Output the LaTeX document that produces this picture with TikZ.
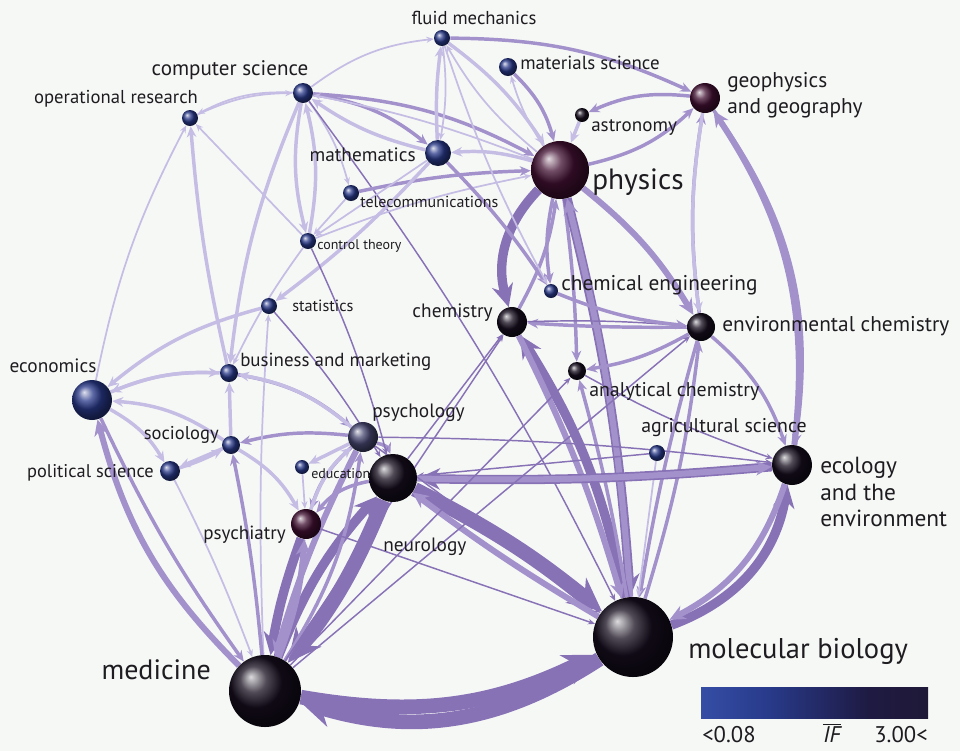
\documentclass[tikz,border=0pt]{standalone}
\usepackage{fontspec}
\setmainfont{PT Sans}
\usetikzlibrary{arrows.meta,positioning}
\definecolor{ink}{RGB}{30,28,32}
\definecolor{paper}{RGB}{246,248,246}
\definecolor{lavA}{RGB}{198,189,228}
\definecolor{lavB}{RGB}{163,145,204}
\definecolor{lavC}{RGB}{136,114,182}
\definecolor{ballblue}{RGB}{40,56,136}
\definecolor{balldark}{RGB}{22,14,30}
\definecolor{ballplum}{RGB}{66,16,50}
\definecolor{ballgrey}{RGB}{70,70,112}
\definecolor{barA}{RGB}{178,194,240}
\definecolor{barB}{RGB}{62,92,184}
\definecolor{barC}{RGB}{40,58,138}
\definecolor{barD}{RGB}{30,26,66}
\definecolor{barE}{RGB}{34,24,36}
\pgfdeclarehorizontalshading{ifbar}{100bp}{color(0bp)=(barA); color(14bp)=(barB); color(40bp)=(barC); color(62bp)=(barD); color(100bp)=(barE)}
\pgfdeclarelayer{paperlayer}
\pgfdeclarelayer{edges}
\pgfsetlayers{paperlayer,edges,main}

\begin{document}
\begin{tikzpicture}[x=0.75pt,y=0.75pt,
  ball/.style={circle, inner sep=0pt},
  bl/.style={ball, ball color=ballblue},
  dk/.style={ball, ball color=balldark},
  pl/.style={ball, ball color=ballplum},
  gy/.style={ball, ball color=ballgrey},
  lbl/.style={text=ink, inner sep=0pt, font=\fontsize{#1}{#1}\selectfont},
  tip/.style={-{Stealth[length=3pt 2, width=2pt 2]}},
  ea/.style={tip, draw=lavA, line width=1.3pt},
  eb/.style={tip, draw=lavC, line width=1.1pt},
  ec/.style={tip, draw=lavA, line width=2.6pt},
  ed/.style={tip, draw=lavB, line width=2.6pt},
  ee/.style={tip, draw=lavB, line width=4.5pt},
  ef/.style={tip, draw=lavC, line width=7pt},
  eg/.style={tip, draw=lavC, line width=11pt}]
\useasboundingbox (0,0) rectangle (960,-751);
\begin{pgfonlayer}{paperlayer}
\fill[paper] (0,0) rectangle (960,-751);
\end{pgfonlayer}

\node[bl, minimum size=12pt] (fluid) at (442,-38) {};
\node[bl, minimum size=13.5pt] (matsci) at (508,-67) {};
\node[bl, minimum size=15pt] (compsci) at (303,-93) {};
\node[bl, minimum size=12pt] (opres) at (190,-118) {};
\node[pl, minimum size=22.5pt] (geo) at (705,-98) {};
\node[dk, minimum size=10.5pt] (astro) at (582,-115) {};
\node[bl, minimum size=19.5pt] (math) at (438,-153) {};
\node[pl, minimum size=43.5pt] (phys) at (560,-170) {};
\node[bl, minimum size=12pt] (telecom) at (351,-193) {};
\node[bl, minimum size=12pt] (control) at (308,-241) {};
\node[bl, minimum size=12pt] (stats) at (269,-306) {};
\node[bl, minimum size=10.5pt] (chemeng) at (551,-291) {};
\node[dk, minimum size=22.5pt] (chem) at (512,-322) {};
\node[dk, minimum size=21pt] (envchem) at (701,-327) {};
\node[bl, minimum size=13.5pt] (business) at (229,-373) {};
\node[dk, minimum size=13.5pt] (analchem) at (577,-371) {};
\node[bl, minimum size=30pt] (econ) at (92,-400) {};
\node[gy, minimum size=22.5pt] (psychol) at (363,-437) {};
\node[bl, minimum size=13.5pt] (socio) at (231,-445) {};
\node[bl, minimum size=12pt] (agri) at (657,-453) {};
\node[bl, minimum size=15pt] (polsci) at (170,-471) {};
\node[bl, minimum size=10.5pt] (edu) at (302,-467) {};
\node[dk, minimum size=30pt] (eco) at (792,-465) {};
\node[dk, minimum size=36pt] (neuro) at (393,-478) {};
\node[pl, minimum size=22.5pt] (psychiat) at (306,-524) {};
\node[dk, minimum size=60pt] (molbio) at (633,-637) {};
\node[dk, minimum size=54pt] (med) at (265,-691) {};

\node[lbl=14] (fluidT) at (474,-18) {fluid mechanics};
\node[lbl=14.2, anchor=west] (matsciT) at (520,-63) {materials science};
\node[lbl=15.8] (compsciT) at (230,-70) {computer science};
\node[lbl=14] (opresT) at (116,-99) {operational research};
\node[text=ink, inner sep=0pt, anchor=west, align=left, font=\fontsize{16}{19.5}\selectfont] (geoT) at (727,-95) {geophysics\\and geography};
\node[lbl=14.3, anchor=west] (astroT) at (591,-128) {astronomy};
\node[lbl=14.5, anchor=east] (mathT) at (416,-155) {mathematics};
\node[lbl=22, anchor=west] (physT) at (592,-182) {physics};
\node[lbl=12, anchor=west] (telecomT) at (360,-202) {telecommunications};
\node[lbl=10.5, anchor=west] (controlT) at (317,-246) {control theory};
\node[lbl=12.2, anchor=west] (statsT) at (292,-306) {statistics};
\node[lbl=16, anchor=west] (chemengT) at (561,-285) {chemical engineering};
\node[lbl=14.5, anchor=east] (chemT) at (493,-313) {chemistry};
\node[lbl=16, anchor=west] (envchemT) at (722,-326) {environmental chemistry};
\node[lbl=14.2, anchor=west] (businessT) at (240,-362) {business and marketing};
\node[lbl=14.9, anchor=west] (analchemT) at (589,-391) {analytical chemistry};
\node[lbl=14.5] (econT) at (53,-366) {economics};
\node[lbl=14.5, anchor=west] (psycholT) at (372,-413) {psychology};
\node[lbl=13.9, anchor=east] (socioT) at (219,-435) {sociology};
\node[lbl=14.9, anchor=west] (agriT) at (641,-428) {agricultural science};
\node[lbl=13.8, anchor=east] (polsciT) at (154,-473) {political science};
\node[lbl=10.5, anchor=west] (eduT) at (311,-474) {education};
\node[text=ink, inner sep=0pt, anchor=west, align=left, font=\fontsize{17.5}{20}\selectfont] (ecoT) at (820,-492) {ecology\\and the\\environment};
\node[lbl=14.5, anchor=west] (neuroT) at (383,-547) {neurology};
\node[lbl=14.3, anchor=east] (psychiatT) at (286,-535) {psychiatry};
\node[lbl=21.4, anchor=west] (molbioT) at (688,-651) {molecular biology};
\node[lbl=21, anchor=east] (medT) at (211,-670) {medicine};

\shade[shading=ifbar] (701,-687) rectangle (928,-718);
\node[lbl=17, anchor=west] (loT) at (702,-735) {<0.08};
\node[lbl=17] (ifT) at (832,-733) {$\overline{\mbox{\itshape IF}}$};
\node[lbl=17, anchor=east] (hiT) at (928,-735) {3.00<};

\begin{pgfonlayer}{edges}
\draw[ea] (compsci) to[bend right=15] (opres);
\draw[ea] (opres) to[bend left=12] (compsci);
\draw[ea] (compsci) to[bend left=15] (fluid);
\draw[ea] (econ) to[bend left=8] (opres);
\draw[ec] (business) to[bend left=4] (opres);
\draw[ea] (control) to (opres);
\draw[ed] (compsci) to[bend left=15] (math);
\draw[ec] (math) to[bend left=10] (compsci);
\draw[ed] (compsci) to[bend left=12] (phys);
\draw[ea] (phys) to[bend right=5] (compsci);
\draw[ec] (compsci) to[bend right=12] (control);
\draw[ec] (control) to[bend right=12] (compsci);
\draw[ea] (compsci) to[bend left=10] (telecom);
\draw[ec] (compsci) to[bend right=8] (business);
\draw[ea] (control) to[bend right=5] (business);
\draw[eb] (compsci) to[bend left=5] (molbio);
\draw[ec] (phys) to[bend right=10] (math);
\draw[ed] (telecom) to[bend left=5] (phys);
\draw[ea] (control) to[bend left=5] (phys);
\draw[ea] (math) to (control);
\draw[ea] (telecom) to (control);
\draw[ec] (math) to[bend left=5] (fluid);
\draw[ea] (fluid) to[bend left=8] (math);
\draw[ec] (fluid) to[bend left=10] (phys);
\draw[ea] (phys) to[bend left=10] (fluid);
\draw[ed] (fluid) to[bend left=12] (geo);
\draw[ed] (matsci) to[bend left=15] (phys);
\draw[ea] (phys) to[bend left=8] (matsci);
\draw[ec] (astro) to (phys);
\draw[ed] (geo) to[bend right=15] (astro);
\draw[ed] (phys) to[bend right=15] (geo);
\draw[ed] (envchem) to[bend left=8] (geo);
\draw[ec] (geo) to[bend right=8] (envchem);
\draw[ee] (eco) to[bend right=20] (geo);
\draw[ed] (geo) to[bend left=22] (eco);
\draw[ef] (phys) to[bend right=30] (chem);
\draw[ed] (chem) to[bend right=10] (phys);
\draw[ed] (phys) to[bend right=10] (chemeng);
\draw[ed] (phys) to[bend left=3] (analchem);
\draw[ee] (phys) to[bend left=10] (envchem);
\draw[ef] (phys) to[bend left=5] (molbio);
\draw[ee] (molbio) to[bend right=5] (phys);
\draw[ed] (math) to[bend left=5] (chemeng);
\draw[ea] (fluid) to[bend right=5] (chemeng);
\draw[ed] (envchem) to[bend left=2] (chem);
\draw[eb] (chem) to[bend left=3] (envchem);
\draw[ed] (chemeng) to[bend right=8] (envchem);
\draw[ed] (envchem) to[bend left=10] (analchem);
\draw[eb] (analchem) to[bend right=5] (eco);
\draw[ed] (envchem) to[bend left=15] (eco);
\draw[ed] (molbio) to[bend right=5] (envchem);
\draw[ed] (envchem) to[bend right=3] (molbio);
\draw[ef] (molbio) to[bend right=10] (chem);
\draw[ee] (chem) to[bend left=5] (molbio);
\draw[ed] (molbio) to[bend right=3] (analchem);
\draw[ea] (agri) to (molbio);
\draw[eb] (agri) to (neuro);
\draw[ef] (eco) to[bend left=3] (neuro);
\draw[ee] (neuro) to[bend right=3] (eco);
\draw[ef] (molbio) to[bend right=30] (eco);
\draw[ee] (eco) to[bend left=22] (molbio);
\draw[eb] (psychol) to[bend left=3] (eco);
\draw[eg] (neuro) to[bend left=6] (molbio);
\draw[ee] (molbio) to[bend left=3] (neuro);
\draw[eg] (med) to[bend right=18] (molbio);
\draw[eg] (molbio) to[bend left=25] (med);
\draw[eg] (neuro) to[bend left=8] (med);
\draw[ef] (med) to[bend left=10] (neuro);
\draw[ef] (psychiat) to[bend right=5] (med);
\draw[ee] (med) to[bend right=8] (psychiat);
\draw[ee] (psychol) to[bend right=5] (med);
\draw[ed] (med) to[bend right=12] (psychol);
\draw[ed] (psychol) to[bend left=30] (neuro);
\draw[ed] (neuro) to[bend right=20] (psychiat);
\draw[ed] (psychol) to[bend right=15] (psychiat);
\draw[ec] (psychiat) to[bend left=15] (psychol);
\draw[ec] (psychol) to (edu);
\draw[ea] (edu) to (psychiat);
\draw[ed] (psychol) to[bend right=10] (socio);
\draw[ed] (business) to[bend left=15] (psychol);
\draw[ec] (psychol) to[bend right=15] (business);
\draw[ec] (socio) to (business);
\draw[ec] (socio) to (polsci);
\draw[ec] (polsci) to[bend right=5] (socio);
\draw[ec] (socio) to[bend right=15] (econ);
\draw[ec] (econ) to[bend left=15] (polsci);
\draw[ec] (business) to[bend right=12] (econ);
\draw[ec] (econ) to[bend left=12] (business);
\draw[ec] (stats) to[bend right=12] (econ);
\draw[ec] (math) to[bend left=5] (stats);
\draw[eb] (stats) to[bend left=5] (neuro);
\draw[ea] (med) to[bend left=3] (stats);
\draw[ee] (med) to[bend left=15] (econ);
\draw[ed] (econ) to[bend right=5] (med);
\draw[ea] (polsci) to[bend left=3] (med);
\draw[ed] (med) to[bend right=3] (socio);
\draw[ec] (socio) to[bend left=15] (psychiat);
\draw[eb] (control) to[bend left=5] (neuro);
\draw[eb] (med) to (chem);
\draw[eb] (med) to (envchem);
\draw[eb] (med) to (analchem);
\draw[eb] (neuro) to (chem);
\draw[eb] (psychiat) to (molbio);
\draw[eb] (psychol) to (molbio);
\end{pgfonlayer}
\end{tikzpicture}
\end{document}
